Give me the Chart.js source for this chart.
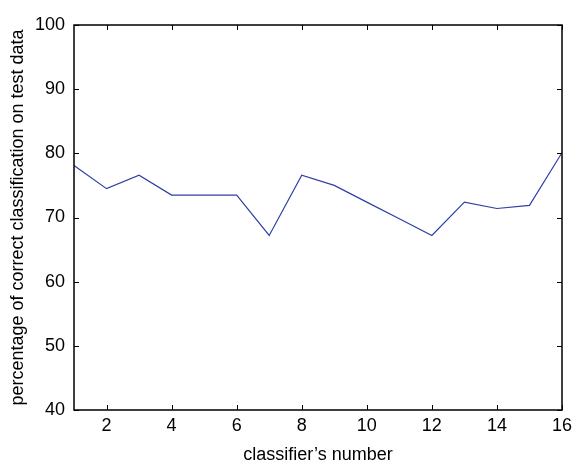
<!DOCTYPE html>
<html>
<head>
<meta charset="utf-8">
<script src="https://cdn.jsdelivr.net/npm/chart.js@4/dist/chart.umd.min.js"></script>
<style>
  html, body { margin: 0; padding: 0; background: #fff; }
  #wrap { width: 579px; height: 470px; }
</style>
</head>
<body>
<div id="wrap"><canvas id="chart"></canvas></div>
<script>
const classifiers = [1, 2, 3, 4, 5, 6, 7, 8, 9, 10, 11, 12, 13, 14, 15, 16];
const accuracy = [78.1, 74.5, 76.6, 73.5, 73.5, 73.5, 67.2, 76.6, 75.0, 72.4, 69.8, 67.2, 72.4, 71.4, 71.9, 80.1];
const xTicks = [2, 4, 6, 8, 10, 12, 14, 16];
const yTicks = [40, 50, 60, 70, 80, 90, 100];

const font = { family: '"Liberation Sans", Arial, sans-serif', size: 18 };

// MATLAB-style box with inward ticks on all four sides
const boxPlugin = {
    id: 'box',
    afterDatasetsDraw(chart) {
        const { ctx, chartArea: a, scales } = chart;
        const len = 5;
        ctx.save();
        ctx.strokeStyle = '#000';
        ctx.lineWidth = 1;
        ctx.beginPath();
        xTicks.forEach(v => {
            const x = Math.round(scales.x.getPixelForValue(v)) + 0.5;
            ctx.moveTo(x, a.bottom); ctx.lineTo(x, a.bottom - len);
            ctx.moveTo(x, a.top); ctx.lineTo(x, a.top + len);
        });
        yTicks.forEach(v => {
            const y = Math.round(scales.y.getPixelForValue(v)) + 0.5;
            ctx.moveTo(a.left, y); ctx.lineTo(a.left + len, y);
            ctx.moveTo(a.right, y); ctx.lineTo(a.right - len, y);
        });
        ctx.stroke();
        ctx.lineWidth = 1.5;
        ctx.strokeRect(a.left, a.top, a.right - a.left, a.bottom - a.top);
        ctx.restore();
    }
};

new Chart(document.getElementById('chart'), {
    type: 'line',
    data: {
        datasets: [{
            data: classifiers.map((c, i) => ({ x: c, y: accuracy[i] })),
            borderColor: '#2f3fa6',
            borderWidth: 1.2,
            pointRadius: 0,
            tension: 0,
            fill: false
        }]
    },
    options: {
        responsive: true,
        maintainAspectRatio: false,
        animation: false,
        layout: { padding: { left: 0, right: 17, top: 25, bottom: 0 } },
        plugins: { legend: { display: false }, tooltip: { enabled: false } },
        scales: {
            x: {
                type: 'linear',
                min: 1,
                max: 16,
                afterBuildTicks: s => { s.ticks = xTicks.map(v => ({ value: v })); },
                afterFit: s => { s.height = 60; },
                grid: { display: false, drawTicks: false, tickLength: 0 },
                border: { display: false },
                ticks: { color: '#000', font, padding: 5, maxRotation: 0, autoSkip: false },
                title: {
                    display: true,
                    text: 'classifier\u2019s number',
                    color: '#000',
                    font,
                    padding: { top: 0, bottom: 4 }
                }
            },
            y: {
                min: 40,
                max: 100,
                afterBuildTicks: s => { s.ticks = yTicks.map(v => ({ value: v })); },
                afterFit: s => { s.width = 74; },
                grid: { display: false, drawTicks: false, tickLength: 0 },
                border: { display: false },
                ticks: { color: '#000', font, padding: 9 },
                title: {
                    display: true,
                    text: 'percentage of correct classification on test data',
                    color: '#000',
                    font,
                    padding: { top: 7, bottom: 0 }
                }
            }
        }
    },
    plugins: [boxPlugin]
});
</script>
</body>
</html>
